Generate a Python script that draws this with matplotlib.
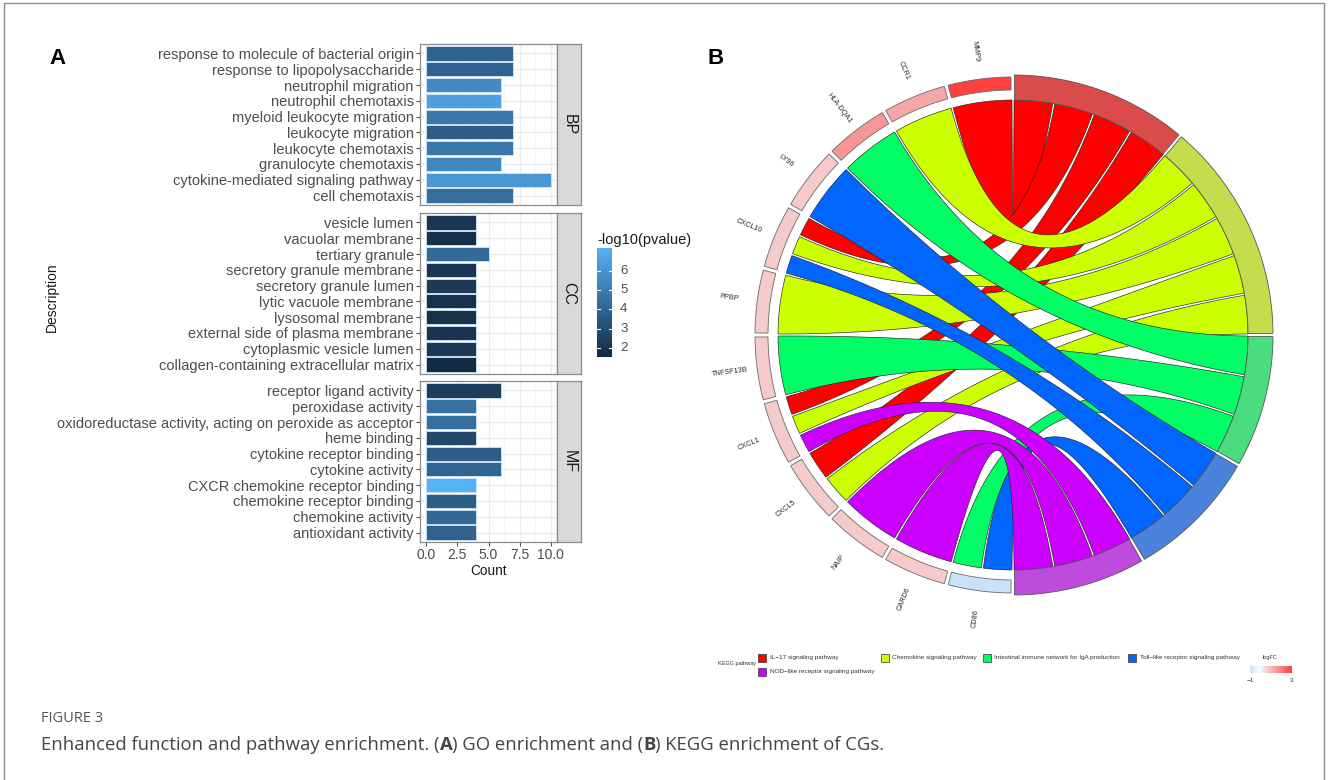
import numpy as np
import matplotlib
matplotlib.use("Agg")
import matplotlib.pyplot as plt
from matplotlib.colors import LinearSegmentedColormap, Normalize
from matplotlib.patches import Polygon, Rectangle

plt.rcParams["font.family"] = ["Liberation Sans", "DejaVu Sans"]

# ---------------- GO enrichment (panel A) ----------------
bp_terms = ["response to molecule of bacterial origin", "response to lipopolysaccharide",
            "neutrophil migration", "neutrophil chemotaxis", "myeloid leukocyte migration",
            "leukocyte migration", "leukocyte chemotaxis", "granulocyte chemotaxis",
            "cytokine-mediated signaling pathway", "cell chemotaxis"]
bp_count = [7, 7, 6, 6, 7, 7, 7, 6, 10, 7]
bp_logp = [3.9, 3.9, 5.55, 6.5, 4.8, 3.7, 4.8, 5.4, 6.1, 4.4]

cc_terms = ["vesicle lumen", "vacuolar membrane", "tertiary granule", "secretory granule membrane",
            "secretory granule lumen", "lytic vacuole membrane", "lysosomal membrane",
            "external side of plasma membrane", "cytoplasmic vesicle lumen",
            "collagen-containing extracellular matrix"]
cc_count = [4, 4, 5, 4, 4, 4, 4, 4, 4, 4]
cc_logp = [2.0, 1.75, 4.2, 2.0, 2.2, 1.8, 1.85, 1.95, 2.15, 1.53]

mf_terms = ["receptor ligand activity", "peroxidase activity",
            "oxidoreductase activity, acting on peroxide as acceptor", "heme binding",
            "cytokine receptor binding", "cytokine activity", "CXCR chemokine receptor binding",
            "chemokine receptor binding", "chemokine activity", "antioxidant activity"]
mf_count = [6, 4, 4, 4, 6, 6, 4, 4, 4, 4]
mf_logp = [2.3, 4.5, 4.4, 2.8, 3.7, 4.0, 7.19, 3.7, 4.1, 3.8]

count_ticks = [0, 2.5, 5, 7.5, 10]
count_tick_labels = ["0.0", "2.5", "5.0", "7.5", "10.0"]
pvalue_ticks = [2, 3, 4, 5, 6]

# ---------------- KEGG chord (panel B) ----------------
genes = ["MMP9", "CCR1", "HLA-DQA1", "LY96", "CXCL10", "PPBP", "TNFSF13B",
         "CXCL1", "CXCL5", "NAIP", "CARD6", "CD86"]
gene_logfc = [2.9, 1.35, 1.6, 0.8, 0.8, 0.8, 0.8, 0.8, 0.8, 0.8, 0.8, -0.8]

pathways = ["IL\u221217 signaling pathway", "Chemokine signaling pathway",
            "Intestinal immune network for IgA production",
            "Toll\u2212like receptor signaling pathway", "NOD\u2212like receptor signaling pathway"]
il17_genes = ["MMP9", "CXCL10", "CXCL1", "CXCL5"]
chemokine_genes = ["CCR1", "CXCL10", "PPBP", "CXCL1", "CXCL5"]
iga_genes = ["HLA-DQA1", "TNFSF13B", "CD86"]
toll_genes = ["LY96", "CXCL10", "CD86"]
nod_genes = ["CXCL1", "NAIP", "CARD6"]
pathway_members = [il17_genes, chemokine_genes, iga_genes, toll_genes, nod_genes]

ribbon_colors = ["#FF0000", "#CCFF00", "#00FF66", "#0066FF", "#CC00FF"]
ring_colors = ["#DA4B4B", "#C3DD4C", "#4ADD7F", "#4B83DC", "#BF4BDC"]

# ---------------- figure canvas in pixel units ----------------
W, H = 1328, 780
fig = plt.figure(figsize=(W / 100, H / 100), dpi=100)
bg = fig.add_axes([0, 0, 1, 1], zorder=0)
bg.set_xlim(0, W)
bg.set_ylim(H, 0)
bg.axis("off")


def px_rect(x, y, w, h):
    return [x / W, 1 - (y + h) / H, w / W, h / H]


# ---------------- panel A: faceted bar chart ----------------
p_cmap = LinearSegmentedColormap.from_list("pval", ["#132B43", "#56B1F7"])
all_logp = np.concatenate([bp_logp, cc_logp, mf_logp])
p_norm = Normalize(all_logp.min(), all_logp.max())

facets = [("BP", bp_terms, bp_count, bp_logp),
          ("CC", cc_terms, cc_count, cc_logp),
          ("MF", mf_terms, mf_count, mf_logp)]
panel_tops = [44, 213, 381]
panel_h = 161
for (name, terms, counts, logp), top in zip(facets, panel_tops):
    ax = fig.add_axes(px_rect(420, top, 137, panel_h), zorder=2)
    n = len(terms)
    ypos = np.arange(n)[::-1]
    ax.barh(ypos, counts, height=0.9, color=p_cmap(p_norm(np.asarray(logp))),
            edgecolor="#d3e5f5", linewidth=0.6, zorder=3)
    ax.set_xlim(-0.5, 10.5)
    ax.set_ylim(-0.6, n - 0.4)
    ax.set_axisbelow(True)
    ax.set_xticks(count_ticks)
    ax.set_xticks([1.25, 3.75, 6.25, 8.75], minor=True)
    ax.set_yticks(ypos)
    ax.set_yticklabels(terms, fontsize=10.5, color="#4d4d4d")
    ax.grid(True, which="major", color="#ebebeb", lw=0.9)
    ax.grid(True, which="minor", axis="x", color="#f3f3f3", lw=0.5)
    ax.tick_params(axis="y", which="major", length=3, width=0.7, color="#444444", pad=1.5)
    ax.tick_params(which="minor", length=0)
    for s in ax.spines.values():
        s.set_color("#8a8a8a")
        s.set_linewidth(0.9)
    if name == "MF":
        ax.set_xticklabels(count_tick_labels, fontsize=10, color="#4d4d4d")
        ax.tick_params(axis="x", which="major", length=3, width=0.7, color="#444444", pad=1.5)
        ax.set_xlabel("Count", fontsize=9.8, color="#1a1a1a", labelpad=1.5)
    else:
        ax.tick_params(axis="x", which="major", length=0, labelbottom=False)

    st = fig.add_axes(px_rect(557, top, 24, panel_h), zorder=2)
    st.set_facecolor("#d9d9d9")
    st.set_xticks([])
    st.set_yticks([])
    for s in st.spines.values():
        s.set_color("#8a8a8a")
        s.set_linewidth(0.9)
    st.text(0.5, 0.5, name, rotation=-90, ha="center", va="center", fontsize=11.5,
            color="#1a1a1a", transform=st.transAxes)

bg.text(52, 297, "Description", rotation=90, ha="center", va="center", fontsize=10, color="#1a1a1a")
bg.text(57, 58, "A", ha="center", va="center", fontsize=16, fontweight="bold", color="black")

# colour bar of -log10(pvalue)
cb_x0, cb_x1, cb_top, cb_bot = 597, 612, 248, 357
bg.text(597, 240, "-log10(pvalue)", ha="left", va="center", fontsize=10.5, color="#1a1a1a")
grad = np.linspace(p_norm.vmax, p_norm.vmin, 256)[:, None]
bg.imshow(grad, cmap=p_cmap, norm=p_norm, extent=(cb_x0, cb_x1, cb_bot, cb_top),
          aspect="auto", interpolation="bilinear", zorder=1)
for v in pvalue_ticks:
    yy = cb_bot - (v - p_norm.vmin) / (p_norm.vmax - p_norm.vmin) * (cb_bot - cb_top)
    bg.plot([cb_x0, cb_x0 + 3], [yy, yy], color="white", lw=0.8, zorder=2)
    bg.plot([cb_x1 - 3, cb_x1], [yy, yy], color="white", lw=0.8, zorder=2)
    bg.text(620, yy, str(v), ha="left", va="center", fontsize=9.5, color="#4d4d4d")

# ---------------- panel B: chord diagram ----------------
cx, cy = 1013, 335
R_rib = 235
gene_r0, gene_r1 = 245, 258
path_r0, path_r1 = 235, 260
label_r = 286


def pt(ang, r):
    a = np.radians(ang)
    return np.array([cx + r * np.cos(a), cy - r * np.sin(a)])


def arc(a0, a1, r, n=60):
    a = np.radians(np.linspace(a0, a1, n))
    return np.column_stack([cx + r * np.cos(a), cy - r * np.sin(a)])


def bezier(p0, p2, n=90):
    t = np.linspace(0, 1, n)[:, None]
    c = np.array([cx, cy])
    return (1 - t) ** 2 * p0 + 2 * t * (1 - t) * c + t ** 2 * p2


def ribbon(a1, a2, b1, b2):
    return np.vstack([arc(a1, a2, R_rib),
                      bezier(pt(a2, R_rib), pt(b1, R_rib)),
                      arc(b1, b2, R_rib),
                      bezier(pt(b2, R_rib), pt(a1, R_rib))])


def annulus(a0, a1, r0, r1):
    return np.vstack([arc(a0, a1, r1), arc(a1, a0, r0)])


gene_step = 180.0 / len(genes)
link_counts = [len(m) for m in pathway_members]
link_step = 180.0 / sum(link_counts)
path_start = 90 - link_step * np.concatenate([[0], np.cumsum(link_counts)[:-1]])
gap = 0.25

# gene-side slot of every (gene, pathway) link
gene_slot = {}
for i, g in enumerate(genes):
    base = 90 + gene_step * i
    plist = [j for j, m in enumerate(pathway_members) if g in m]
    k = len(plist)
    for s, j in enumerate(plist):
        gene_slot[(g, j)] = (base + gene_step * s / k + gap, base + gene_step * (s + 1) / k - gap)

# ribbons, drawn pathway by pathway
for j, members in enumerate(pathway_members):
    for pos, g in enumerate(members):
        a1, a2 = gene_slot[(g, j)]
        b2 = path_start[j] - link_step * pos - gap
        b1 = path_start[j] - link_step * (pos + 1) + gap
        bg.add_patch(Polygon(ribbon(a1, a2, b1, b2), closed=True, fc=ribbon_colors[j],
                             ec="#222222", lw=0.45, zorder=3))

lfc_cmap = LinearSegmentedColormap.from_list("lfc", ["#6495ED", "#F0FFFF", "#FF4040"])
lfc_lim = np.max(np.abs(gene_logfc))
lfc_norm = Normalize(-lfc_lim, lfc_lim)

for i, (g, v) in enumerate(zip(genes, gene_logfc)):
    a0 = 90 + gene_step * i + 0.45
    a1 = 90 + gene_step * (i + 1) - 0.45
    bg.add_patch(Polygon(annulus(a0, a1, gene_r0, gene_r1), closed=True,
                         fc=lfc_cmap(lfc_norm(v)), ec="#6a6a6a", lw=0.6, zorder=4))
    mid = 90 + gene_step * (i + 0.5)
    lx, ly = pt(mid, label_r)
    bg.text(lx, ly, g, rotation=mid - 180, rotation_mode="anchor", ha="center", va="center",
            fontsize=5.2, color="#2a2a2a")

for j, m in enumerate(pathway_members):
    a_hi = path_start[j] - 0.35
    a_lo = path_start[j] - link_step * len(m) + 0.35
    bg.add_patch(Polygon(annulus(a_lo, a_hi, path_r0, path_r1), closed=True,
                         fc=ring_colors[j], ec="#555555", lw=0.6, zorder=4))

bg.text(716, 58, "B", ha="center", va="center", fontsize=16, fontweight="bold", color="black")

# legend of pathways
bg.text(737, 664, "KEGG pathway", ha="center", va="center", fontsize=4.0, color="#333333")
legend_pos = [(762, 658), (884.5, 658), (986.5, 658), (1131.5, 658), (762, 672)]
for (x, y), name, col in zip(legend_pos, pathways, ribbon_colors):
    bg.add_patch(Rectangle((x - 4, y - 4), 8, 8, fc=col, ec="#333333", lw=0.5, zorder=4))
    bg.text(x + 8, y, name, ha="left", va="center", fontsize=4.6, color="#333333")

# logFC colour legend
bg.text(1270, 657, "logFC", ha="center", va="center", fontsize=4.0, color="#333333")
lfc_grad = np.linspace(min(gene_logfc), max(gene_logfc), 256)[None, :]
bg.imshow(lfc_grad, cmap=lfc_cmap, norm=lfc_norm, extent=(1250, 1292, 673, 666),
          aspect="auto", interpolation="bilinear", zorder=4)
bg.text(1250, 681, "\u2212" + str(int(round(-min(gene_logfc)))), ha="center", va="center",
        fontsize=4.6, color="#333333")
bg.text(1292, 681, str(int(round(max(gene_logfc)))), ha="center", va="center",
        fontsize=4.6, color="#333333")

# ---------------- caption ----------------
renderer = fig.canvas.get_renderer()


def text_width(s, **kw):
    t1 = bg.text(0, 0, s + ".", **kw)
    t2 = bg.text(0, 0, ".", **kw)
    w = t1.get_window_extent(renderer).width - t2.get_window_extent(renderer).width
    t1.remove()
    t2.remove()
    return w


bg.text(41, 718, "FIGURE 3", ha="left", va="center", fontsize=10.5, color="#555555",
        family=["Open Sans", "DejaVu Sans"])
caption_parts = [("Enhanced function and pathway enrichment. (", "normal"), ("A", "bold"),
                 (") GO enrichment and (", "normal"), ("B", "bold"),
                 (") KEGG enrichment of CGs.", "normal")]
x = 41
for s, wgt in caption_parts:
    kw = dict(fontsize=13.3, fontweight=wgt, color="#444444", family=["Open Sans", "DejaVu Sans"])
    bg.text(x, 745, s, ha="left", va="center", **kw)
    x += text_width(s, **kw)

bg.add_patch(Rectangle((4, 3), W - 8, H - 2, fill=False, ec="#8c8c8c", lw=1.0, zorder=10))

bg.set_xlim(0, W)
bg.set_ylim(H, 0)
fig.savefig("out.png", dpi=100)
